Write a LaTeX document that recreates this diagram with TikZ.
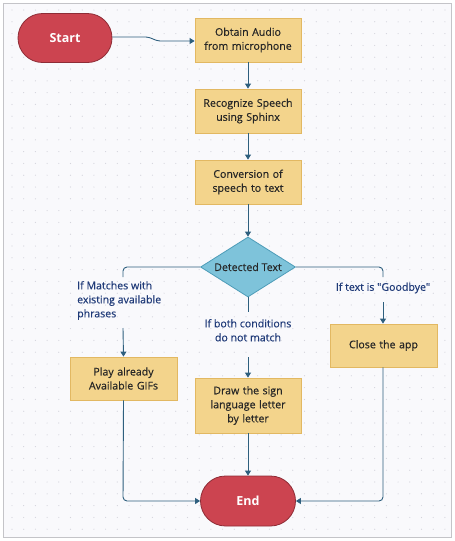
\documentclass[tikz,border=0pt]{standalone}
\usepackage{fontspec}
\setmainfont{Open Sans}[Ligatures=TeXOff]
\newfontfamily\semifont{Open Sans}[FakeBold=0.4, Ligatures=TeXOff]
\usetikzlibrary{shapes.geometric,arrows.meta,positioning}
\definecolor{bgc}{HTML}{F9F9FC}
\definecolor{framec}{HTML}{C4C4C8}
\definecolor{dotc}{HTML}{D4D4DC}
\definecolor{redf}{HTML}{CC4450}
\definecolor{redd}{HTML}{8E2C36}
\definecolor{boxf}{HTML}{F3D48C}
\definecolor{boxd}{HTML}{E2B862}
\definecolor{diaf}{HTML}{7EC3DA}
\definecolor{diad}{HTML}{4D9CB8}
\definecolor{linec}{HTML}{2E5F7E}
\definecolor{labc}{HTML}{1F3A78}
\tikzset{
  term/.style={draw=redd, fill=redf, line width=0.8pt, rounded corners=24.5pt,
    minimum width=94pt, minimum height=49pt, text=white, font=\fontsize{12.5}{15}\selectfont\bfseries, inner sep=0pt},
  proc/.style={draw=boxd, fill=boxf, line width=0.8pt, minimum width=106pt,
    text width=102pt, align=center, font=\semifont\fontsize{10.6}{14}\selectfont, text=black!85, inner sep=2pt},
  deci/.style={draw=diad, fill=diaf, line width=0.8pt, diamond, aspect=1.58,
    minimum width=95pt, minimum height=60pt, font=\semifont\fontsize{10.6}{12}\selectfont, text=black!85, inner sep=0pt},
  lab/.style={text=labc, font=\semifont\fontsize{10.6}{14}\selectfont, inner sep=0pt},
  conn/.style={draw=linec, line width=0.9pt, rounded corners=4pt},
  arr/.style={conn, -{Triangle[length=5pt,width=6pt]}},
}
\begin{document}
\begin{tikzpicture}[x=1pt,y=-1pt]
\useasboundingbox (0,0) rectangle (455,541);
\fill[bgc] (3,3) rectangle (451,537);
\foreach \i in {0,...,37}{\foreach \j in {0,...,44}{
  \fill[dotc] (12+11.7*\i, 10+11.8*\j) circle (0.6pt);}}
\draw[framec, line width=1pt] (3,3) rectangle (451,537);

\node[term] (start) at (65,38) {Start};
\node[proc, minimum height=44pt] (obtain) at (248,40) {Obtain Audio\\from microphone};
\node[proc, minimum height=44pt] (recog) at (248,111) {Recognize Speech\\using Sphinx};
\node[proc, minimum height=44pt] (conv) at (248,182) {Conversion of\\speech to text};
\node[deci] (dec) at (248,267) {Detected Text};
\node[proc, minimum height=43pt, minimum width=107pt] (play) at (123.5,378.5) {Play already\\Available GIFs};
\node[proc, minimum height=55pt] (draw) at (248,405.5) {Draw the sign\\language letter\\by letter};
\node[proc, minimum height=43pt, minimum width=107pt] (close) at (383.5,345.5) {Close the app};
\node[term, minimum width=95pt, minimum height=50pt, rounded corners=25pt] (end) at (248,501) {End};

\node[lab, align=left, anchor=north west] (l1) at (77,281) {If Matches with\\existing available\\phrases};
\node[lab, align=center, anchor=north] (l2) at (248,319) {If both conditions\\do not match};
\node[lab, anchor=center] (l3) at (383,288) {If text is "Goodbye"};

\coordinate (s1) at (148,37);
\coordinate (s2) at (158,41);
\draw[arr, rounded corners=2pt] (start.east |- 0,37) -- (s1) -- (s2) -- (obtain.west |- 0,41);
\draw[arr] (obtain) -- (recog);
\draw[arr] (recog) -- (conv);
\draw[arr] (conv) -- (dec.north);

\coordinate (lb1) at (123,267);
\coordinate (lb2) at (123,277);
\coordinate (lb3) at (123,328);
\draw[conn] (dec.west) -- (lb1) -- (lb2);
\draw[arr] (lb3) -- (play.north);

\coordinate (rb1) at (383,267);
\coordinate (rb2) at (383,277);
\coordinate (rb3) at (383,302);
\draw[conn] (dec.east) -- (rb1) -- (rb2);
\draw[arr] (rb3) -- (close.north -| rb3);

\coordinate (mb1) at (248,312);
\coordinate (mb2) at (248,357);
\draw[conn] (dec.south) -- (mb1);
\draw[arr] (mb2) -- (draw.north);

\draw[arr] (draw) -- (end);
\coordinate (pe) at (123,501);
\draw[arr] (play.south) -- (pe) -- (end.west);
\coordinate (ce) at (383,501);
\draw[arr] (close.south -| ce) -- (ce) -- (end.east);
\end{tikzpicture}
\end{document}
